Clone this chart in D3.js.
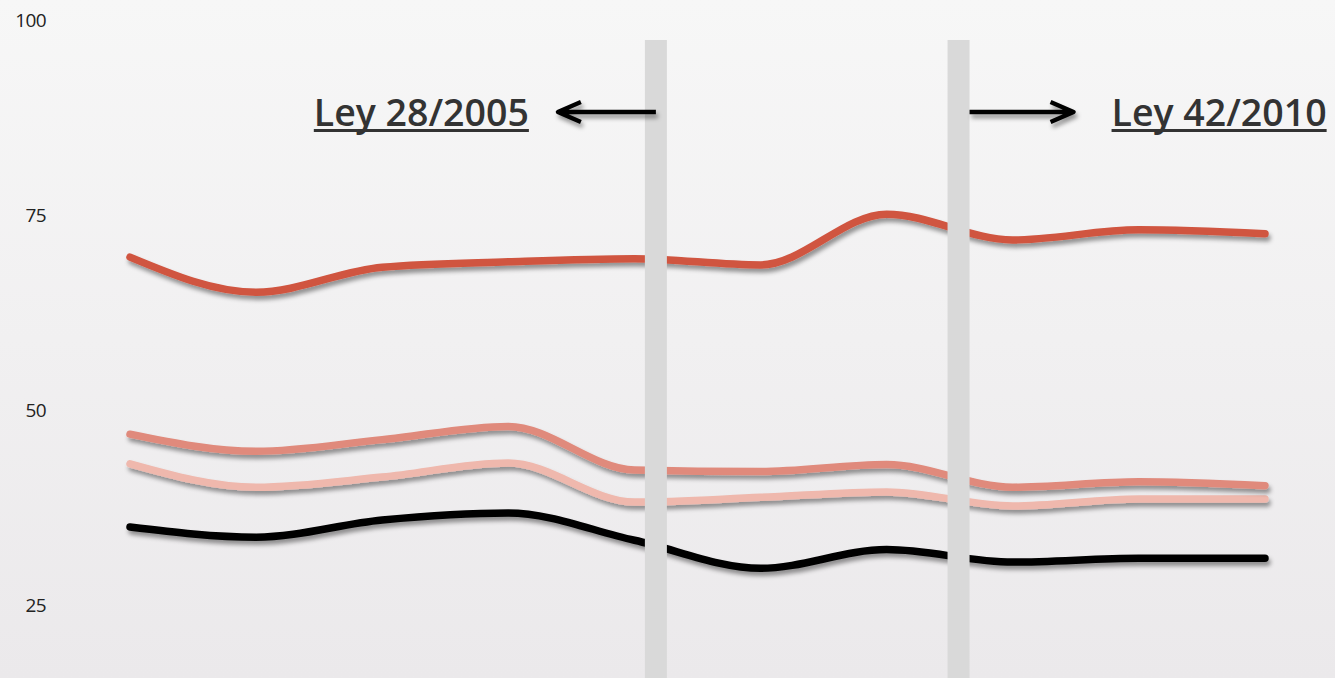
<!DOCTYPE html>
<html>
<head>
<meta charset="utf-8">
<script src="https://cdn.jsdelivr.net/npm/d3@7"></script>
<style>
html,body{margin:0;padding:0;overflow:hidden;}
svg{display:block;}
</style>
</head>
<body>
<script>
// ---- data ----
const periods = [0,1,2,3,4,5,6,7,8,9];
const serieRoja   = [69.6, 65.1, 68.3, 69.0, 69.4, 68.6, 75.1, 71.8, 73.1, 72.6];
const serieMedia  = [46.9, 44.7, 46.2, 47.9, 42.3, 42.1, 43.0, 40.1, 40.8, 40.3];
const serieClara  = [43.1, 40.1, 41.4, 43.2, 38.2, 38.8, 39.5, 37.7, 38.6, 38.6];
const serieNegra  = [35.0, 33.7, 35.9, 36.8, 33.3, 29.7, 32.1, 30.5, 31.0, 31.0];
const yTicks = [25, 50, 75, 100];
const leyes = [
  {label: "Ley 28/2005", at: 4.17, dir: -1},
  {label: "Ley 42/2010", at: 6.57, dir: 1}
];

const W = 1335, H = 678;
const svg = d3.select("body").append("svg").attr("width", W).attr("height", H);
const defs = svg.append("defs");
const grad = defs.append("linearGradient").attr("id","bg").attr("x1",0).attr("y1",0).attr("x2",0).attr("y2",1);
grad.append("stop").attr("offset","0%").attr("stop-color","#f7f7f7");
grad.append("stop").attr("offset","100%").attr("stop-color","#ebe9eb");
const f = defs.append("filter").attr("id","shadow").attr("x","-10%").attr("y","-50%").attr("width","120%").attr("height","200%");
f.append("feDropShadow").attr("dx",2).attr("dy",4).attr("stdDeviation",2.3).attr("flood-color","#000").attr("flood-opacity",0.4);

svg.append("rect").attr("width",W).attr("height",H).attr("fill","url(#bg)");

const x = d3.scaleLinear().domain([0, 9]).range([130, 1265]);
const y = d3.scaleLinear().domain([25, 100]).range([605, 20]);

// y tick labels
svg.append("g").selectAll("text").data(yTicks).join("text")
  .attr("x", 46).attr("y", d => y(d)).attr("dy","0.36em")
  .attr("text-anchor","end")
  .attr("font-family","'Open Sans', sans-serif").attr("font-size",19)
  .attr("letter-spacing",-0.6)
  .attr("fill","#222").text(d => d);

const line = d3.line().x((d,i) => x(periods[i])).y(d => y(d)).curve(d3.curveMonotoneX);

const series = [
  {values: serieNegra, color: "#000000"},
  {values: serieClara, color: "#efb8ad"},
  {values: serieMedia, color: "#e08a7c"},
  {values: serieRoja,  color: "#d0543f"}
];
svg.append("g").selectAll("path").data(series).join("path")
  .attr("d", d => line(d.values))
  .attr("fill","none").attr("stroke", d => d.color)
  .attr("stroke-width",7.5).attr("stroke-linecap","round").attr("stroke-linejoin","round")
  .attr("filter","url(#shadow)");

// bands
const bw = 22;
svg.append("g").selectAll("rect").data(leyes).join("rect")
  .attr("x", d => x(d.at) - bw/2).attr("y", 40)
  .attr("width", bw).attr("height", H - 40)
  .attr("fill","#d9d9d9");

// arrows + labels
const ay = 112;
leyes.forEach(d => {
  const cx = x(d.at);
  const start = d.dir < 0 ? cx : cx + bw/2;
  const tip = d.dir < 0 ? cx - 98 : cx + 115;
  const g = svg.append("g").attr("filter","url(#shadow)");
  g.append("path")
    .attr("d", `M${start},${ay}L${tip},${ay}M${tip - d.dir*23},${ay-10}L${tip},${ay}L${tip - d.dir*23},${ay+10}`)
    .attr("fill","none").attr("stroke","#000").attr("stroke-width",4.3)
    .attr("stroke-linecap","butt").attr("stroke-linejoin","round");
  const tx = d.dir < 0 ? tip - 29 : tip + 38;
  const t = svg.append("text")
    .attr("x", tx).attr("y", 126)
    .attr("text-anchor", d.dir < 0 ? "end" : "start")
    .attr("font-family","'Open Sans', sans-serif").attr("font-weight",600)
    .attr("font-size",37.5).attr("fill","#333").text(d.label);
  const bb = t.node().getBBox();
  svg.append("rect").attr("x", bb.x).attr("y", 129).attr("width", bb.width).attr("height", 3).attr("fill","#333");
});
</script>
</body>
</html>
